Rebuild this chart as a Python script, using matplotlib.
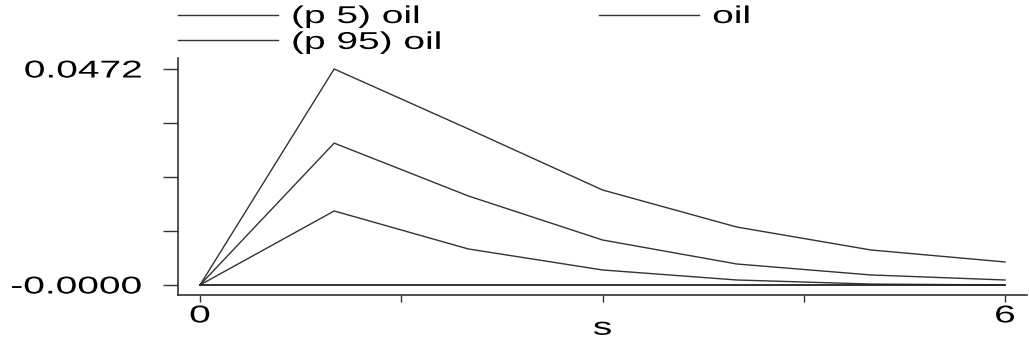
import matplotlib
matplotlib.use("Agg")
import matplotlib.pyplot as plt
from matplotlib.patheffects import AbstractPathEffect
from matplotlib.transforms import Affine2D

steps = [0, 1, 2, 3, 4, 5, 6]
p5_oil = [0.0, 0.01617, 0.00787, 0.00328, 0.00109, 0.0002, 0.0]
oil = [0.0, 0.0310, 0.01945, 0.00983, 0.00459, 0.00219, 0.00109]
p95_oil = [0.0, 0.0472, 0.0341, 0.02076, 0.01267, 0.00765, 0.00503]
y_ticks = [0.0, 0.0118, 0.0236, 0.0354, 0.0472]
y_labels = ["-0.0000", "", "", "", "0.0472"]
x_ticks = [0, 1.5, 3, 4.5, 6]
x_labels = ["0", "", "", "", "6"]

plt.rcParams['font.family'] = ['Liberation Sans', 'DejaVu Sans']


class Stretch(AbstractPathEffect):
    """Stretch glyphs horizontally about an anchor fraction of the text width."""
    def __init__(self, sx=1.6, anchor=0.0):
        super().__init__()
        self.sx = sx
        self.anchor = anchor

    def draw_path(self, renderer, gc, tpath, affine, rgbFace=None):
        ext = tpath.get_extents()
        a = ext.x0 + self.anchor * (ext.x1 - ext.x0) if self.anchor else 0.0
        t = Affine2D().translate(-a, 0).scale(self.sx, 1).translate(a, 0) + affine
        renderer.draw_path(gc, tpath, t, rgbFace)


SX = 1.6
FS = 17.5
col = '#333333'

fig = plt.figure(figsize=(10.29, 3.43), dpi=100)
ax = fig.add_axes([178/1029, 1-295/343, (1027-178)/1029, (295-58)/343])

lp5, = ax.plot(steps, p5_oil, color=col, lw=1.0, label='(p 5) oil')
lp95, = ax.plot(steps, p95_oil, color=col, lw=1.0, label='(p 95) oil')
loil, = ax.plot(steps, oil, color=col, lw=1.0, label='oil')
ax.axhline(0, xmin=(0+0.164)/6.328, xmax=(6+0.164)/6.328, color='#222222', lw=1.3)

ax.set_xlim(-0.164, 6.164)
ax.set_ylim(-0.00219, 0.0496)
ax.set_yticks(y_ticks)
ax.set_yticklabels(y_labels, fontsize=FS)
ax.set_xticks(x_ticks)
ax.set_xticklabels(x_labels, fontsize=FS)
ax.tick_params(axis='y', direction='out', length=10.8, width=1, color=col, pad=15)
ax.tick_params(axis='x', direction='out', length=5, width=1, color=col, pad=2.5)
for s in ['top', 'right']:
    ax.spines[s].set_visible(False)
for s in ['left', 'bottom']:
    ax.spines[s].set_color(col)
    ax.spines[s].set_linewidth(1.2)
ax.set_xlabel('s', fontsize=FS, labelpad=-7)

for t in ax.get_yticklabels():
    t.set_path_effects([Stretch(SX, 1.0)])
for t in ax.get_xticklabels():
    t.set_path_effects([Stretch(SX, 0.5)])
ax.xaxis.label.set_path_effects([Stretch(SX, 0.5)])

leg = fig.legend(handles=[lp5, lp95, loil], ncol=2, loc='upper left',
                 bbox_to_anchor=(178/1029, 1.0 - 6/343), frameon=False, fontsize=FS,
                 handlelength=4.1, handletextpad=0.55, columnspacing=8.8,
                 labelspacing=0.16, borderaxespad=0, borderpad=0)
for t in leg.get_texts():
    t.set_path_effects([Stretch(SX, 0.0)])

fig.savefig('out.png', dpi=100)
